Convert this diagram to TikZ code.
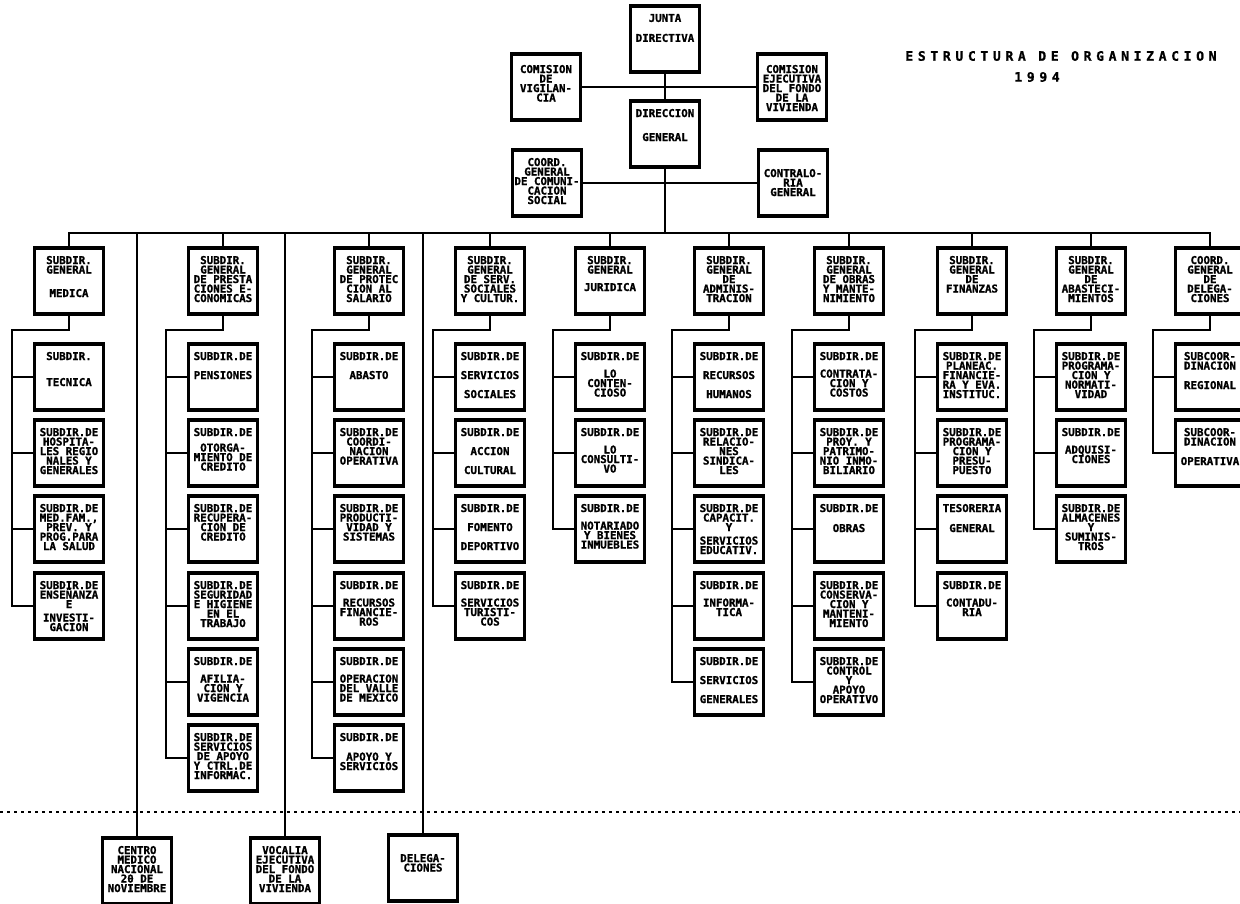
\documentclass[tikz,border=0pt]{standalone}
\usepackage{fontspec}
\newfontfamily\bxf{DejaVu Sans Mono}[BoldFeatures={FakeBold=1.2}]
\newcommand{\bto}[3]{\parbox[c][56pt][t]{66pt}{\lineskiplimit=-100pt\vspace*{#1}\centering\fontsize{10.8}{#2}\selectfont #3}}
\newcommand{\bt}[2][9.5]{\bto{3pt}{#1}{#2}}
\tikzset{
  obox/.style={draw, line width=3.2pt, minimum width=69pt, minimum height=66pt, inner sep=0pt, fill=white, font=\bxf\bfseries},
  conn/.style={line width=1.9pt},
  dotline/.style={line width=1.7pt, dash pattern=on 2.5pt off 4.5pt},
  ttl/.style={font=\bxf\bfseries\fontsize{13}{14}\selectfont, inner sep=0pt}
}
\newcommand{\kids}[2]{%
  \path (h#1.south) ++(0,14) coordinate (e#1) ++(-57,0) coordinate (b#1);
  \draw[conn] (h#1.south) -- (e#1) -- (b#1) |- (k#1-#2.west);
  \foreach \i in {1,...,#2} {\draw[conn] (b#1 |- k#1-\i.west) -- (k#1-\i.west);}
}
\begin{document}
\begin{tikzpicture}[x=1pt,y=-1pt]
\useasboundingbox (0,0) rectangle (1240,904);

% title
\node[ttl] (title) at (1061,56) {\addfontfeature{LetterSpace=36}ESTRUCTURA DE ORGANIZACION};
\node[ttl] (year) at (1037,77) {\addfontfeature{LetterSpace=36}1994};

% top group
\node[obox] (junta) at (665,39) {\bt[20]{JUNTA\\DIRECTIVA}};
\node[obox] (comvig) at (546,87) {\bto{6pt}{9.5}{COMISION\\DE\\VIGILAN-\\CIA}};
\node[obox] (comeje) at (792,87) {\bto{6pt}{9.5}{COMISION\\EJECUTIVA\\DEL FONDO\\DE LA\\VIVIENDA}};
\node[obox] (dg) at (665,134) {\bto{3pt}{24}{DIRECCION\\GENERAL}};
\node[obox] (coord) at (547,183) {\bt{COORD.\\GENERAL\\DE COMUNI-\\CACION\\SOCIAL}};
\node[obox] (contra) at (793,183) {\bto{14pt}{9.5}{CONTRALO-\\RIA\\GENERAL}};

\draw[conn] (junta.south) -- (dg.north);
\draw[conn] (comvig.east) -- (comeje.west);
\draw[conn] (coord.east) -- (contra.west);

% column heads
\node[obox] (h1) at (69,281) {\bt{SUBDIR.\\GENERAL\\[14pt]MEDICA}};
\node[obox] (h2) at (223,281) {\bt{SUBDIR.\\GENERAL\\DE PRESTA\\CIONES E-\\CONOMICAS}};
\node[obox] (h3) at (369,281) {\bt{SUBDIR.\\GENERAL\\DE PROTEC\\CION AL\\SALARIO}};
\node[obox] (h4) at (490,281) {\bt{SUBDIR.\\GENERAL\\DE SERV.\\SOCIALES\\Y CULTUR.}};
\node[obox] (h5) at (610,281) {\bt{SUBDIR.\\GENERAL\\[8pt]JURIDICA}};
\node[obox] (h6) at (729,281) {\bt{SUBDIR.\\GENERAL\\DE\\ADMINIS-\\TRACION}};
\node[obox] (h7) at (849,281) {\bt{SUBDIR.\\GENERAL\\DE OBRAS\\Y MANTE-\\NIMIENTO}};
\node[obox] (h8) at (972,281) {\bt{SUBDIR.\\GENERAL\\DE\\FINANZAS}};
\node[obox] (h9) at (1091,281) {\bt{SUBDIR.\\GENERAL\\DE\\ABASTECI-\\MIENTOS}};
\node[obox] (h10) at (1210,281) {\bt{COORD.\\GENERAL\\DE\\DELEGA-\\CIONES}};

% column 1
\node[obox] (k1-1) at (69,377) {\bt[26]{SUBDIR.\\TECNICA}};
\node[obox] (k1-2) at (69,453) {\bt{SUBDIR.DE\\HOSPITA-\\LES REGIO\\NALES Y\\GENERALES}};
\node[obox] (k1-3) at (69,529) {\bt{SUBDIR.DE\\MED.FAM.,\\PREV. Y\\PROG.PARA\\LA SALUD}};
\node[obox] (k1-4) at (69,606) {\bt{SUBDIR.DE\\ENSEÑANZA\\E\\[4pt]INVESTI-\\GACION}};
% column 2
\node[obox] (k2-1) at (223,377) {\bt[19]{SUBDIR.DE\\PENSIONES}};
\node[obox] (k2-2) at (223,453) {\bt{SUBDIR.DE\\[6pt]OTORGA-\\MIENTO DE\\CREDITO}};
\node[obox] (k2-3) at (223,529) {\bt{SUBDIR.DE\\RECUPERA-\\CION DE\\CREDITO}};
\node[obox] (k2-4) at (223,606) {\bt{SUBDIR.DE\\SEGURIDAD\\E HIGIENE\\EN EL\\TRABAJO}};
\node[obox] (k2-5) at (223,682) {\bt{SUBDIR.DE\\[8pt]AFILIA-\\CION Y\\VIGENCIA}};
\node[obox] (k2-6) at (223,758) {\bt{SUBDIR.DE\\SERVICIOS\\DE APOYO\\Y CTRL.DE\\INFORMAC.}};
% column 3
\node[obox] (k3-1) at (369,377) {\bt[19]{SUBDIR.DE\\ABASTO}};
\node[obox] (k3-2) at (369,453) {\bt{SUBDIR.DE\\COORDI-\\NACION\\OPERATIVA}};
\node[obox] (k3-3) at (369,529) {\bt{SUBDIR.DE\\PRODUCTI-\\VIDAD Y\\SISTEMAS}};
\node[obox] (k3-4) at (369,606) {\bt{SUBDIR.DE\\[8pt]RECURSOS\\FINANCIE-\\ROS}};
\node[obox] (k3-5) at (369,682) {\bt{SUBDIR.DE\\[8pt]OPERACION\\DEL VALLE\\DE MEXICO}};
\node[obox] (k3-6) at (369,758) {\bt{SUBDIR.DE\\[10pt]APOYO Y\\SERVICIOS}};
% column 4
\node[obox] (k4-1) at (490,377) {\bt[19]{SUBDIR.DE\\SERVICIOS\\SOCIALES}};
\node[obox] (k4-2) at (490,453) {\bt[19]{SUBDIR.DE\\ACCION\\CULTURAL}};
\node[obox] (k4-3) at (490,529) {\bt[19]{SUBDIR.DE\\FOMENTO\\DEPORTIVO}};
\node[obox] (k4-4) at (490,606) {\bt{SUBDIR.DE\\[8pt]SERVICIOS\\TURISTI-\\COS}};
% column 5
\node[obox] (k5-1) at (610,377) {\bt{SUBDIR.DE\\[8pt]LO\\CONTEN-\\CIOSO}};
\node[obox] (k5-2) at (610,453) {\bt{SUBDIR.DE\\[8pt]LO\\CONSULTI-\\VO}};
\node[obox] (k5-3) at (610,529) {\bt{SUBDIR.DE\\[8pt]NOTARIADO\\Y BIENES\\INMUEBLES}};
% column 6
\node[obox] (k6-1) at (729,377) {\bt[19]{SUBDIR.DE\\RECURSOS\\HUMANOS}};
\node[obox] (k6-2) at (729,453) {\bt{SUBDIR.DE\\RELACIO-\\NES\\SINDICA-\\LES}};
\node[obox] (k6-3) at (729,529) {\bt{SUBDIR.DE\\CAPACIT.\\Y\\[4pt]SERVICIOS\\EDUCATIV.}};
\node[obox] (k6-4) at (729,606) {\bt{SUBDIR.DE\\[8pt]INFORMA-\\TICA}};
\node[obox] (k6-5) at (729,682) {\bt[19]{SUBDIR.DE\\SERVICIOS\\GENERALES}};
% column 7
\node[obox] (k7-1) at (849,377) {\bt{SUBDIR.DE\\[8pt]CONTRATA-\\CION Y\\COSTOS}};
\node[obox] (k7-2) at (849,453) {\bt{SUBDIR.DE\\PROY. Y\\PATRIMO-\\NIO INMO-\\BILIARIO}};
\node[obox] (k7-3) at (849,529) {\bt[20]{SUBDIR.DE\\OBRAS}};
\node[obox] (k7-4) at (849,606) {\bt{SUBDIR.DE\\CONSERVA-\\CION Y\\MANTENI-\\MIENTO}};
\node[obox] (k7-5) at (849,682) {\bt{SUBDIR.DE\\CONTROL\\Y\\APOYO\\OPERATIVO}};
% column 8
\node[obox] (k8-1) at (972,377) {\bt{SUBDIR.DE\\PLANEAC.\\FINANCIE-\\RA Y EVA.\\INSTITUC.}};
\node[obox] (k8-2) at (972,453) {\bt{SUBDIR.DE\\PROGRAMA-\\CION Y\\PRESU-\\PUESTO}};
\node[obox] (k8-3) at (972,529) {\bt[20]{TESORERIA\\GENERAL}};
\node[obox] (k8-4) at (972,606) {\bt{SUBDIR.DE\\[8pt]CONTADU-\\RIA}};
% column 9
\node[obox] (k9-1) at (1091,377) {\bt{SUBDIR.DE\\PROGRAMA-\\CION Y\\NORMATI-\\VIDAD}};
\node[obox] (k9-2) at (1091,453) {\bt{SUBDIR.DE\\[8pt]ADQUISI-\\CIONES}};
\node[obox] (k9-3) at (1091,529) {\bt{SUBDIR.DE\\ALMACENES\\Y\\SUMINIS-\\TROS}};
% column 10
\node[obox] (k10-1) at (1210,377) {\bt{SUBCOOR-\\DINACION\\[10pt]REGIONAL}};
\node[obox] (k10-2) at (1210,453) {\bt{SUBCOOR-\\DINACION\\[10pt]OPERATIVA}};

% bottom boxes
\node[obox] (cmn) at (137,871) {\bt{CENTRO\\MEDICO\\NACIONAL\\20 DE\\NOVIEMBRE}};
\node[obox] (voc) at (285,871) {\bt{VOCALIA\\EJECUTIVA\\DEL FONDO\\DE LA\\VIVIENDA}};
\node[obox] (del) at (423,868) {\bto{14pt}{9.5}{DELEGA-\\CIONES}};

% main bus
\coordinate (busL) at (69,233);
\draw[conn] (h1.north) -- (h1.north |- busL) -- (h10.north |- busL) -- (h10.north);
\foreach \c in {2,...,9} {\draw[conn] (h\c.north) -- (h\c.north |- busL);}
\draw[conn] (dg.south) -- (dg.south |- busL);
\draw[conn] (cmn.north) -- (cmn.north |- busL);
\draw[conn] (voc.north) -- (voc.north |- busL);
\draw[conn] (del.north) -- (del.north |- busL);

% column connectors
\kids{1}{4}
\kids{2}{6}
\kids{3}{6}
\kids{4}{4}
\kids{5}{3}
\kids{6}{5}
\kids{7}{5}
\kids{8}{4}
\kids{9}{3}
\kids{10}{2}

% dotted separator
\coordinate (dotL) at (0,812);
\coordinate (dotR) at (1240,812);
\draw[dotline] (dotL) -- (dotR);
\end{tikzpicture}
\end{document}
